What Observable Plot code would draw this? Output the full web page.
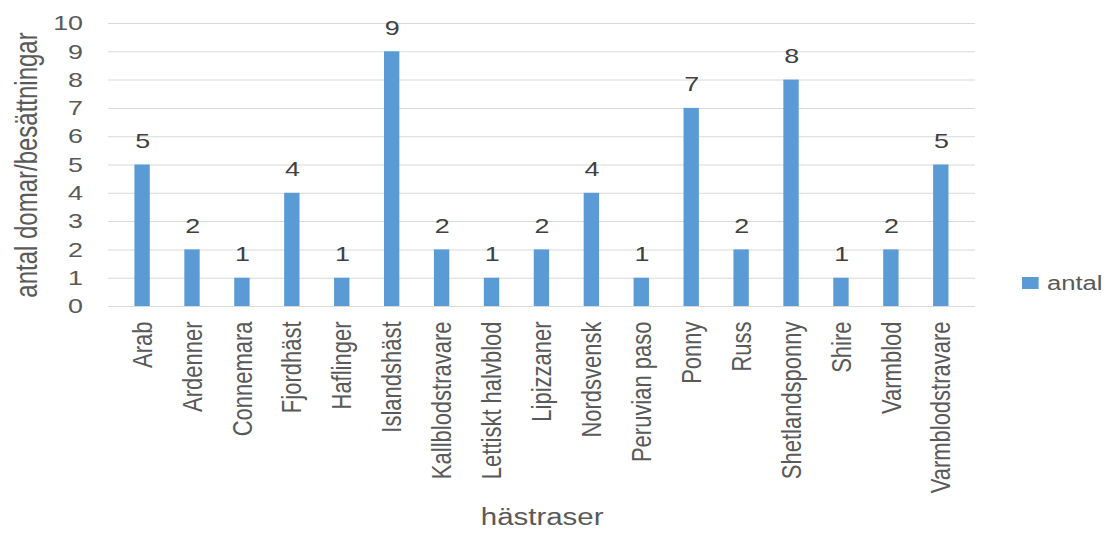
<!DOCTYPE html>
<html><head><meta charset="utf-8">
<script src="https://cdn.jsdelivr.net/npm/d3@7"></script>
<script src="https://cdn.jsdelivr.net/npm/@observablehq/plot@0.6"></script>
<style>
body{margin:0;background:#fff;}
#wrap{position:relative;width:1106px;height:533px;overflow:hidden;}
#legend{position:absolute;left:1022px;top:271px;height:24px;font:20px "Liberation Sans",sans-serif;color:#595959;display:flex;align-items:center;transform:scaleX(1.28);transform-origin:0 50%;white-space:nowrap;}
#legend span.sw{display:inline-block;width:12.5px;height:12px;background:#5B9BD5;margin-right:7px;}
</style></head>
<body><div id="wrap"><div id="legend"><span class="sw"></span><span id="legtext"></span></div></div>
<script>
const breeds = ["Arab","Ardenner","Connemara","Fjordhäst","Haflinger","Islandshäst","Kallblodstravare","Lettiskt halvblod","Lipizzaner","Nordsvensk","Peruvian paso","Ponny","Russ","Shetlandsponny","Shire","Varmblod","Varmblodstravare"];
const antal = [5,2,1,4,1,9,2,1,2,4,1,7,2,8,1,2,5];
const yTicks = [0,1,2,3,4,5,6,7,8,9,10];
const seriesName = "antal";
const xTitle = "hästraser";
const yTitle = "antal domar/besättningar";

const data = breeds.map((b,i)=>({breed:b, value:antal[i]}));
document.getElementById("legtext").textContent = seriesName;

// the reference image is stretched horizontally; draw in a narrower frame and stretch it
const S = 1.28;
const W = 1106 / S;
const font = '"Liberation Sans",sans-serif';
const chart = Plot.plot({
  width:W, height:533,
  marginLeft:108/S, marginRight:131/S, marginTop:23, marginBottom:227,
  style:{fontFamily:font, fontSize:"20px", color:"#595959", background:"#fff", overflow:"visible"},
  x:{domain:breeds, paddingInner:0.68, paddingOuter:0.34, label:null},
  y:{domain:[0,10], label:null},
  marks:[
    Plot.gridY(yTicks,{stroke:"#d9d9d9", strokeOpacity:1}),
    Plot.ruleY([0],{stroke:"#d9d9d9"}),
    Plot.barY(data,{x:"breed", y:"value", fill:"#5B9BD5"}),
    Plot.text(data,{x:"breed", y:"value", text:d=>String(d.value), dy:-24, fontSize:21, fill:"#404040"}),
    Plot.axisY({ticks:yTicks, tickSize:0, tickPadding:20, fontSize:21, label:yTitle, labelAnchor:"center", labelArrow:"none", labelOffset:73}),
    Plot.axisX({tickSize:0, tickPadding:15, tickRotate:-90, fontSize:22, label:xTitle, labelAnchor:"center", labelArrow:"none", labelOffset:218})
  ]
});
chart.setAttribute("width", 1106);
chart.setAttribute("height", 533);
chart.setAttribute("viewBox", `0 0 ${W} 533`);
chart.setAttribute("preserveAspectRatio", "none");
chart.style.maxWidth = "none";
chart.style.width = "1106px";
chart.style.height = "533px";
// enlarge axis titles
chart.querySelectorAll("[aria-label='y-axis label'] text").forEach(t=>t.setAttribute("font-size", 24));
chart.querySelectorAll("[aria-label='x-axis label'] text").forEach(t=>t.setAttribute("font-size", 23));
document.getElementById("wrap").prepend(chart);
</script></body></html>
